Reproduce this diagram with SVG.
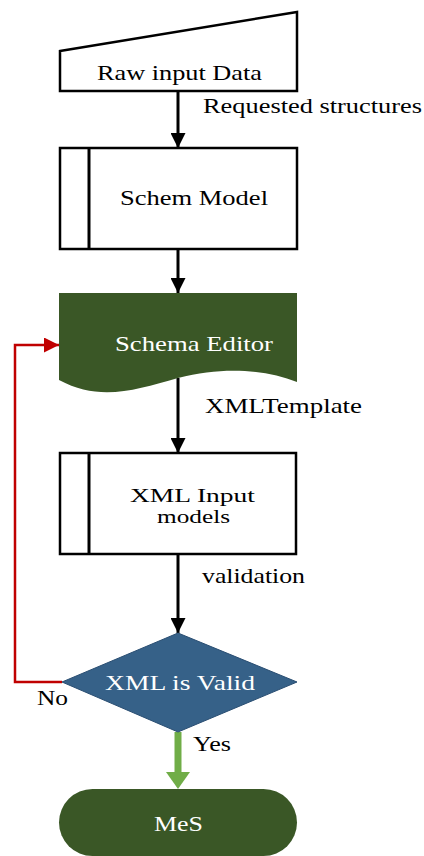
<svg xmlns="http://www.w3.org/2000/svg" width="424" height="856" viewBox="0 0 424 856">
<defs>
<style>
.box{fill:#fff;stroke:#000;stroke-width:2.5}
.t{font-family:"Liberation Serif","Times New Roman",serif;font-size:21px;fill:#000}
.s{font-size:18px}
.w{fill:#fff}
.c{text-anchor:middle}
.ln{stroke:#000;stroke-width:3;fill:none}
</style>
<marker id="ah" viewBox="0 0 10 10" refX="10" refY="5" markerWidth="5" markerHeight="5" markerUnits="strokeWidth" orient="auto"><path d="M0,0L10,5L0,10z" fill="#000"/></marker>
<marker id="ahr" viewBox="0 0 10 10" refX="10" refY="5" markerWidth="7" markerHeight="6" markerUnits="strokeWidth" orient="auto"><path d="M0,0L10,5L0,10z" fill="#c00000"/></marker>
</defs>
<g id="connectors">
<line class="ln" x1="178" y1="91" x2="178" y2="148" marker-end="url(#ah)"/>
<line class="ln" x1="178" y1="249" x2="178" y2="293" marker-end="url(#ah)"/>
<line class="ln" x1="178" y1="378" x2="178" y2="453" marker-end="url(#ah)"/>
<line class="ln" x1="178" y1="554" x2="178" y2="633" marker-end="url(#ah)"/>
<polyline points="62,682 15,682 15,345 59,345" fill="none" stroke="#c00000" stroke-width="2.5" marker-end="url(#ahr)"/>
<line x1="178" y1="732" x2="178" y2="774" stroke="#70ad47" stroke-width="7"/>
<path d="M166,772L190,772L178,789z" fill="#70ad47"/>
<text class="t" x="203" y="113" textLength="219" lengthAdjust="spacingAndGlyphs">Requested structures</text>
<text class="t" x="205" y="413" textLength="157" lengthAdjust="spacingAndGlyphs">XMLTemplate</text>
<text class="t" x="202" y="583" textLength="103" lengthAdjust="spacingAndGlyphs">validation</text>
<text class="t" x="37" y="705" textLength="31" lengthAdjust="spacingAndGlyphs">No</text>
<text class="t" x="193" y="751" textLength="38" lengthAdjust="spacingAndGlyphs">Yes</text>
</g>
<g id="raw">
<polygon class="box" points="60,51 297,12 297,91 60,91"/>
<text class="t" x="97" y="80" textLength="165" lengthAdjust="spacingAndGlyphs">Raw input Data</text>
</g>
<g id="schem">
<rect class="box" x="60" y="148" width="237" height="101"/>
<line class="ln" x1="89" y1="148" x2="89" y2="249" stroke-width="2.5"/>
<text class="t" x="120" y="205" textLength="148" lengthAdjust="spacingAndGlyphs">Schem Model</text>
</g>
<g id="editor">
<path d="M59,293H297V382C265,370 225,366 178,378C135,390 100,402 59,380Z" fill="#3a5726"/>
<text class="t w" x="115" y="351" textLength="158" lengthAdjust="spacingAndGlyphs">Schema Editor</text>
</g>
<g id="xmlinput">
<rect class="box" x="60" y="453" width="236" height="101"/>
<line class="ln" x1="89" y1="453" x2="89" y2="554" stroke-width="2.5"/>
<text class="t s" x="130" y="502" textLength="125" lengthAdjust="spacingAndGlyphs">XML Input</text>
<text class="t s" x="157" y="523" textLength="73" lengthAdjust="spacingAndGlyphs">models</text>
</g>
<g id="valid">
<polygon points="178,633 297,682 178,732 62,682" fill="#366188" stroke="#2a4e72" stroke-width="1"/>
<text class="t w" x="105" y="690" textLength="150" lengthAdjust="spacingAndGlyphs">XML is Valid</text>
</g>
<g id="mes">
<rect x="59" y="789" width="238" height="67" rx="33.5" fill="#3a5726"/>
<text class="t w" x="154" y="831" textLength="49" lengthAdjust="spacingAndGlyphs">MeS</text>
</g>
</svg>
